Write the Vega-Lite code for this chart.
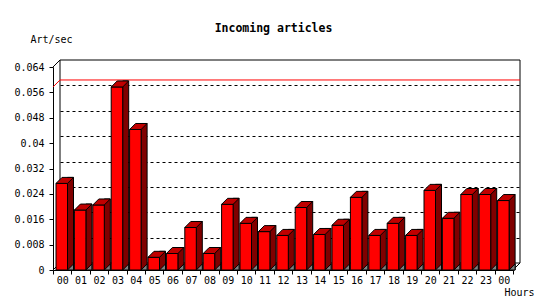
{
  "$schema": "https://vega.github.io/schema/vega-lite/v6.json",
  "width": 467,
  "height": 210,
  "autosize": {"type": "none"},
  "padding": {"left": 53, "top": 60, "right": 30, "bottom": 30},
  "background": "white",
  "title": {
    "text": "Incoming articles",
    "font": "DejaVu Sans Mono",
    "fontSize": 11.5,
    "fontWeight": "bold",
    "color": "black",
    "anchor": "middle",
    "frame": "group",
    "dx": -13,
    "offset": 0
  },
  "config": {
    "view": {"stroke": null},
    "axis": {
      "labelFont": "DejaVu Sans Mono",
      "labelFontSize": 10,
      "labelColor": "black",
      "tickColor": "black",
      "domainColor": "black",
      "titleFont": "DejaVu Sans Mono",
      "titleFontSize": 10,
      "titleFontWeight": "normal",
      "titleColor": "black",
      "labelOverlap": false
    }
  },
  "data": {
    "values": [
      {"idx": 0, "value": 0.0273},
      {"idx": 1, "value": 0.0189},
      {"idx": 2, "value": 0.0205},
      {"idx": 3, "value": 0.0577},
      {"idx": 4, "value": 0.0443},
      {"idx": 5, "value": 0.0040},
      {"idx": 6, "value": 0.0052},
      {"idx": 7, "value": 0.0134},
      {"idx": 8, "value": 0.0052},
      {"idx": 9, "value": 0.0207},
      {"idx": 10, "value": 0.0147},
      {"idx": 11, "value": 0.0121},
      {"idx": 12, "value": 0.0109},
      {"idx": 13, "value": 0.0197},
      {"idx": 14, "value": 0.0112},
      {"idx": 15, "value": 0.0141},
      {"idx": 16, "value": 0.0229},
      {"idx": 17, "value": 0.0109},
      {"idx": 18, "value": 0.0147},
      {"idx": 19, "value": 0.0109},
      {"idx": 20, "value": 0.0251},
      {"idx": 21, "value": 0.0163},
      {"idx": 22, "value": 0.0238},
      {"idx": 23, "value": 0.0238},
      {"idx": 24, "value": 0.0219}
    ]
  },
  "layer": [
    {
      "layer": [
        {
          "data": {"values": [{}]},
          "mark": {"type": "rect", "fill": "white", "fillOpacity": 0, "stroke": "black", "strokeWidth": 1},
          "encoding": {
            "x": {"datum": 0, "type": "quantitative", "scale": {"domain": [0, 1], "range": [7, 467]}, "axis": null},
            "x2": {"datum": 1},
            "y": {
              "datum": 0.064,
              "type": "quantitative",
              "scale": {"domain": [0, 0.064], "range": [203, 0], "nice": false},
              "axis": {
                "orient": "left",
                "grid": true,
                "gridDash": [3, 3],
                "gridColor": "black",
                "gridOpacity": 1,
                "gridWidth": 1,
                "values": [0.008, 0.016, 0.024, 0.032, 0.04, 0.048, 0.056],
                "tickCount": 20,
                "domain": false,
                "ticks": false,
                "labels": false,
                "title": null
              }
            },
            "y2": {"datum": 0}
          }
        },
        {
          "data": {"values": [{}]},
          "mark": {"type": "rule", "color": "black", "strokeWidth": 1, "xOffset": -7, "yOffset": 7},
          "encoding": {
            "x": {"datum": 0, "type": "quantitative"},
            "x2": {"datum": 0},
            "y": {"datum": 0.064, "type": "quantitative"},
            "y2": {"datum": 0.064}
          }
        },
        {
          "data": {"values": [{}]},
          "mark": {"type": "rule", "color": "black", "strokeWidth": 1, "xOffset": -7, "yOffset": 7},
          "encoding": {
            "x": {"datum": 0, "type": "quantitative"},
            "x2": {"datum": 0},
            "y": {"datum": 0, "type": "quantitative"},
            "y2": {"datum": 0}
          }
        },
        {
          "data": {"values": [{}]},
          "mark": {"type": "rule", "color": "black", "strokeWidth": 1, "xOffset": -7, "yOffset": 7},
          "encoding": {
            "x": {"datum": 1, "type": "quantitative"},
            "x2": {"datum": 1},
            "y": {"datum": 0, "type": "quantitative"},
            "y2": {"datum": 0}
          }
        },
        {
          "transform": [{"aggregate": [{"op": "max", "field": "value", "as": "maxv"}]}],
          "mark": {"type": "rule", "color": "#ff0000", "strokeWidth": 1},
          "encoding": {
            "x": {"datum": 0, "type": "quantitative"},
            "x2": {"datum": 1},
            "y": {"field": "maxv", "type": "quantitative"}
          }
        },
        {
          "transform": [{"aggregate": [{"op": "max", "field": "value", "as": "maxv"}]}],
          "mark": {"type": "rule", "color": "#ff0000", "strokeWidth": 1, "xOffset": -7, "yOffset": 7},
          "encoding": {
            "x": {"datum": 0, "type": "quantitative"},
            "x2": {"datum": 0},
            "y": {"field": "maxv", "type": "quantitative"},
            "y2": {"field": "maxv"}
          }
        }
      ]
    },
    {
      "encoding": {
        "x": {
          "field": "idx",
          "type": "ordinal",
          "scale": {"type": "band", "range": [0, 460], "paddingInner": 0, "paddingOuter": 0},
          "axis": {
            "orient": "bottom",
            "labelExpr": "isValid(datum.value) && isFinite(datum.value) ? (datum.value % 24 < 10 ? '0' : '') + (datum.value % 24) : ''",
            "labelAngle": 0,
            "tickBand": "extent",
            "tickSize": 4,
            "labelPadding": 1,
            "title": "Hours",
            "titleAlign": "left",
            "titleBaseline": "middle",
            "titleX": 451,
            "titleY": 22,
            "grid": false
          }
        }
      },
      "layer": [
        {
          "mark": {"type": "bar", "fill": "#800000", "stroke": "black", "strokeWidth": 1, "width": 6, "xOffset": 8.3, "yOffset": -6},
          "encoding": {
            "y": {
              "field": "value",
              "type": "quantitative",
              "scale": {"domain": [0, 0.064], "range": [210, 7], "nice": false},
              "axis": {
                "orient": "left",
                "values": [0, 0.008, 0.016, 0.024, 0.032, 0.04, 0.048, 0.056, 0.064],
                "tickCount": 20,
                "format": ".3~f",
                "grid": false,
                "tickSize": 4,
                "labelPadding": 5,
                "title": "Art/sec",
                "titleAngle": 0,
                "titleAlign": "left",
                "titleBaseline": "middle",
                "titleX": -23,
                "titleY": -21
              }
            },
            "y2": {"datum": 0}
          }
        },
        {
          "mark": {"type": "bar", "fill": "#ff0000", "stroke": "black", "strokeWidth": 1, "width": 11.5, "xOffset": -0.45},
          "encoding": {
            "y": {"field": "value", "type": "quantitative"},
            "y2": {"datum": 0}
          }
        },
        {
          "mark": {"type": "point", "shape": "M -0.62 0 L 0.53 0 L 1.13 -0.6 L -0.02 -0.6 Z", "size": 400, "filled": true, "fill": "#c00000", "stroke": "black", "strokeWidth": 1, "opacity": 1},
          "encoding": {
            "y": {"field": "value", "type": "quantitative"}
          }
        },
        {
          "mark": {"type": "point", "shape": "M 0.53 0 L 1.13 0 L 1.13 -0.6 Z", "size": 400, "filled": true, "fill": "#808080", "stroke": "black", "strokeWidth": 1, "opacity": 1},
          "encoding": {
            "y": {"datum": 0, "type": "quantitative"}
          }
        }
      ]
    }
  ],
  "resolve": {"scale": {"x": "independent", "y": "independent"}}
}
